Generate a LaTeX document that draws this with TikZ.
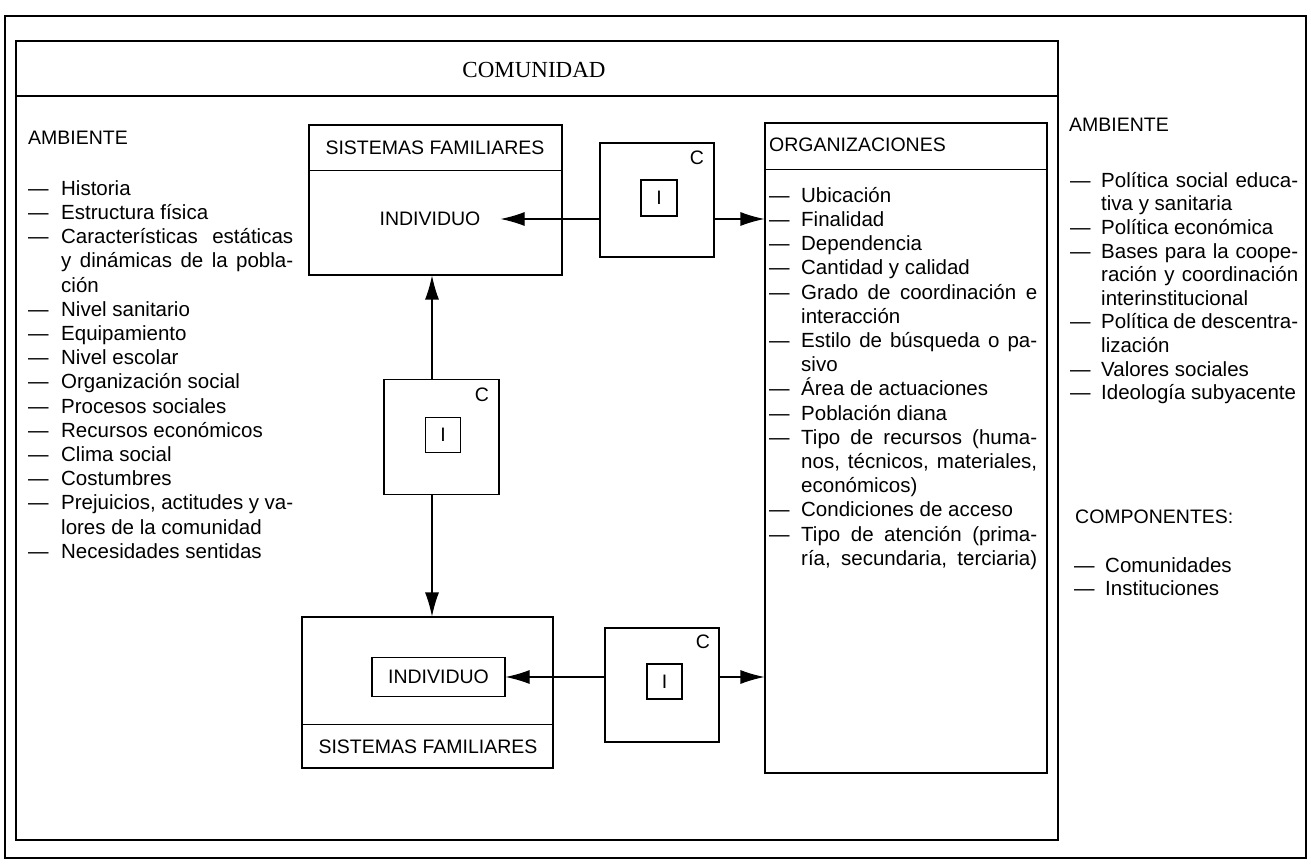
\documentclass[tikz,border=0pt]{standalone}
\usepackage{fontspec}
\setmainfont{Liberation Sans}
\newfontfamily\titlefont{Liberation Serif}
\usetikzlibrary{arrows.meta,calc}
% hanging indent of the dashed lists
\newlength\hind
\newcommand\dsh{\makebox[\hind][l]{—}}
\newcommand\cont{\hspace*{\hind}}
% a justified line of given width
\newcommand\jst[2]{\makebox[#1][s]{#2}}
\newcommand\firstline{\rule{0pt}{17pt}}
\begin{document}
\begin{tikzpicture}[x=1pt,y=-1pt,
  frame/.style={draw, line width=2pt},
  box/.style={draw, line width=1.1pt, inner sep=0pt},
  lbl/.style={inner sep=0pt, font=\fontsize{19.5}{23}\selectfont},
  lst/.style={inner sep=0pt, anchor=north west, align=left, font=\fontsize{20.5}{24.2}\selectfont},
  lstr/.style={lst, font=\fontsize{20.5}{23.6}\selectfont},
  arr/.style={-{Latex[length=24pt,width=14pt]}, line width=1.1pt},
]
\useasboundingbox (0,0) rectangle (1311,866);

% frames
\draw[frame] (5,16) rectangle (1306,858);
\draw[line width=1.1pt] (16,41) rectangle (1058,840);
\draw[line width=1.1pt] (16,96) -- (1058,96);
\node[inner sep=0pt, font=\titlefont\fontsize{23}{27}\selectfont] (com) at (534,70) {COMUNIDAD};

% left environment list
\node[lbl, anchor=west] (ambl) at (28,138) {AMBIENTE};
\setlength\hind{33pt}
\node[lst] (ambllist) at (28,178) {\firstline\dsh Historia\\
\dsh Estructura física\\
\dsh\jst{232pt}{Características estáticas}\\
\cont\jst{232pt}{y dinámicas de la pobla-}\\
\cont ción\\
\dsh Nivel sanitario\\
\dsh Equipamiento\\
\dsh Nivel escolar\\
\dsh Organización social\\
\dsh Procesos sociales\\
\dsh Recursos económicos\\
\dsh Clima social\\
\dsh Costumbres\\
\dsh\jst{232pt}{Prejuicios, actitudes y va-}\\
\cont lores de la comunidad\\
\dsh Necesidades sentidas};

% upper family system
\node[box, minimum width=253pt, minimum height=150pt] (sf1) at (435.5,200) {};
\draw[line width=1.1pt] ($(sf1.north west)+(0,46)$) -- ($(sf1.north east)+(0,46)$);
\node[lbl] (sf1t) at (435,148) {SISTEMAS FAMILIARES};
\node[lbl] (ind1) at (430,219) {INDIVIDUO};

% upper C box
\node[box, minimum size=114pt] (c1) at (657,200) {};
\node[lbl] (c1c) at (697,158) {C};
\node[box, lbl, minimum size=36pt] (i1) at (659,198) {I};

% organizations
\node[box, minimum width=282pt, minimum height=650pt] (org) at (906,448) {};
\draw[line width=1.1pt] ($(org.north west)+(0,47)$) -- ($(org.north east)+(0,47)$);
\node[lbl, anchor=west] (orgt) at (769,145) {ORGANIZACIONES};
\setlength\hind{32pt}
\node[lst] (orglist) at (769,185) {\firstline\dsh Ubicación\\
\dsh Finalidad\\
\dsh Dependencia\\
\dsh Cantidad y calidad\\
\dsh\jst{236pt}{Grado de coordinación e}\\
\cont interacción\\
\dsh\jst{236pt}{Estilo de búsqueda o pa-}\\
\cont sivo\\
\dsh Área de actuaciones\\
\dsh Población diana\\
\dsh\jst{236pt}{Tipo de recursos (huma-}\\
\cont\jst{236pt}{nos, técnicos, materiales,}\\
\cont económicos)\\
\dsh Condiciones de acceso\\
\dsh\jst{236pt}{Tipo de atención (prima-}\\
\cont\jst{236pt}{ría, secundaria, terciaria)}};

% middle C box
\node[box, minimum size=115pt] (c2) at (441.5,437) {};
\node[lbl] (c2c) at (482,395) {C};
\node[box, lbl, minimum size=35pt] (i2) at (443,435) {I};

% lower family system
\node[box, minimum width=251pt, minimum height=151pt] (sf2) at (427.5,692.5) {};
\draw[line width=1.1pt] ($(sf2.south west)+(0,-44)$) -- ($(sf2.south east)+(0,-44)$);
\node[lbl] (sf2t) at (428,747) {SISTEMAS FAMILIARES};
\node[box, lbl, minimum width=133pt, minimum height=39pt] (ind2) at (438.5,677) {INDIVIDUO};

% lower C box
\node[box, minimum size=114pt] (c3) at (662,685) {};
\node[lbl] (c3c) at (703,642) {C};
\node[box, lbl, minimum size=35pt] (i3) at (664.5,681.5) {I};

% right environment list
\node[lbl, anchor=west] (ambr) at (1069,125) {AMBIENTE};
\setlength\hind{31pt}
\node[lstr] (ambrlist) at (1070,170) {\firstline\dsh\jst{197pt}{Política social educa-}\\
\cont tiva y sanitaria\\
\dsh Política económica\\
\dsh\jst{197pt}{Bases para la coope-}\\
\cont\jst{197pt}{ración y coordinación}\\
\cont interinstitucional\\
\dsh\jst{197pt}{Política de descentra-}\\
\cont lización\\
\dsh Valores sociales\\
\dsh Ideología subyacente};
\node[lbl, anchor=west] (comp) at (1075,517) {COMPONENTES:};
\node[lstr] (complist) at (1074,555) {\firstline\dsh Comunidades\\
\dsh Instituciones};

% connectors
\coordinate (vx) at (432,437);
\draw[arr] (c1.west |- ind1) -- ([xshift=20pt]ind1.east);
\draw[arr] (c1.east |- ind1) -- (org.west |- ind1);
\draw[arr] (c2.north -| vx) -- (sf1.south -| vx);
\draw[arr] (c2.south -| vx) -- (sf2.north -| vx);
\draw[arr] (c3.west |- ind2) -- (ind2.east);
\draw[arr] (c3.east |- ind2) -- (org.west |- ind2);
\end{tikzpicture}
\end{document}
